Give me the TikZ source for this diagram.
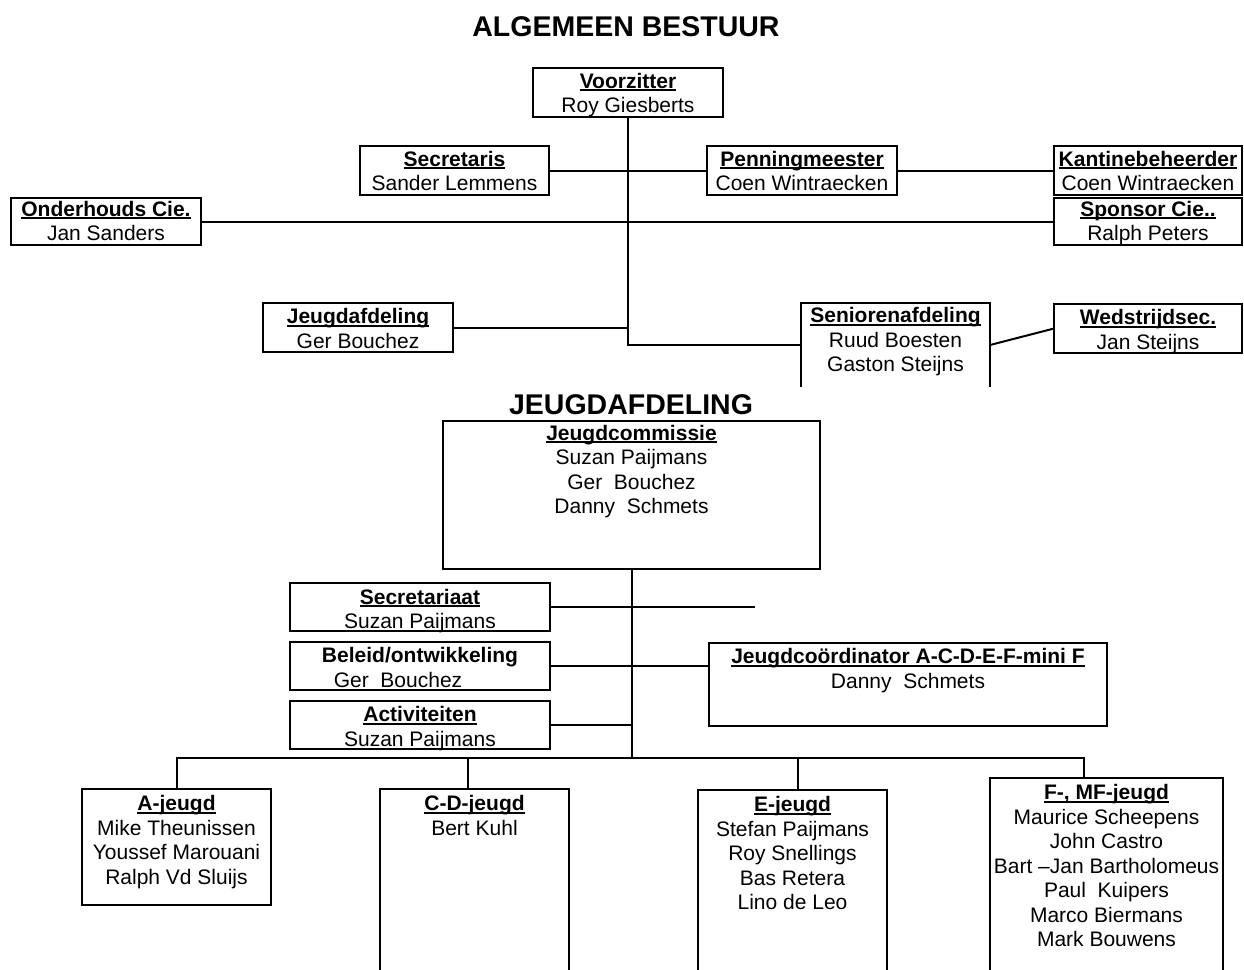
\documentclass[tikz,border=0pt]{standalone}
\usepackage{fontspec}
\setmainfont{Liberation Sans}
\usetikzlibrary{positioning}
\newcommand{\undl}[1]{\leavevmode\setbox0\hbox{\bfseries #1}\rlap{\rule[-3pt]{\wd0}{2pt}}\box0}
\begin{document}
\begin{tikzpicture}[x=1pt,y=1pt,yscale=-1,xscale=1,
  box/.style={draw,line width=2pt,inner sep=0pt,outer sep=0pt,anchor=north west},
  openbox/.style={line width=2pt,inner sep=0pt,outer sep=0pt,anchor=north west},
  txt/.style={inner sep=0pt,anchor=north,align=center,font=\fontsize{21}{24.5}\selectfont},
  head/.style={inner sep=0pt,anchor=base,font=\fontsize{28.5}{30}\selectfont\bfseries},
  conn/.style={line width=2pt}]
\useasboundingbox (0,0) rectangle (1244,969);
\node[head] (titel) at (626,36) {ALGEMEEN BESTUUR};
\node[box,minimum width=190pt,minimum height=49pt] (voorz) at (533,68) {};
\node[txt] (voorzt) at (628,73) {\undl{Voorzitter}\\Roy Giesberts};
\node[box,minimum width=189pt,minimum height=49pt] (secr) at (360,146) {};
\node[txt] (secrt) at (454.5,151) {\undl{Secretaris}\\Sander Lemmens};
\node[box,minimum width=190pt,minimum height=49pt] (penn) at (707,146) {};
\node[txt] (pennt) at (802,151) {\undl{Penningmeester}\\Coen Wintraecken};
\node[box,minimum width=188pt,minimum height=49pt] (kant) at (1054,146) {};
\node[txt] (kantt) at (1148,151) {\undl{Kantinebeheerder}\\Coen Wintraecken};
\node[box,minimum width=190pt,minimum height=47pt] (onder) at (11,198) {};
\node[txt] (ondert) at (106,201) {\undl{Onderhouds Cie.}\\Jan Sanders};
\node[box,minimum width=188pt,minimum height=47pt] (spons) at (1054,198) {};
\node[txt] (sponst) at (1148,201) {\undl{Sponsor Cie..}\\Ralph Peters};
\node[box,minimum width=190pt,minimum height=49pt] (jeugd) at (263,303) {};
\node[txt] (jeugdt) at (358,308.5) {\undl{Jeugdafdeling}\\Ger Bouchez};
\node[openbox,minimum width=189pt,minimum height=84pt] (sen) at (801,303) {};
\node[txt] (sent) at (895.5,307.5) {\undl{Seniorenafdeling}\\Ruud Boesten\\Gaston Steijns};
\node[box,minimum width=188pt,minimum height=49pt] (wedstr) at (1054,304) {};
\node[txt] (wedstrt) at (1148,309.5) {\undl{Wedstrijdsec.}\\Jan Steijns};
\draw[openbox] (sen.south west) |- (sen.north east) -- (sen.south east);
\draw[conn] (voorz.south) |- (sen.west);
\draw[conn] (secr.east) -- (penn.west);
\draw[conn] (penn.east) -- (kant.west);
\draw[conn] (onder.east) -- (spons.west);
\draw[conn] (jeugd.east) -- (jeugd.east -| voorz.south);
\draw[conn] (sen.east) -- (wedstr.west);
\node[head] (jtitel) at (631,414) {JEUGDAFDELING};
\node[box,minimum width=377pt,minimum height=148pt] (jcom) at (443,421) {};
\node[txt] (jcomt) at (631.5,425) {\undl{Jeugdcommissie}\\Suzan Paijmans\\Ger\ \ Bouchez\\Danny\ \ Schmets};
\node[box,minimum width=260pt,minimum height=48pt] (secrat) at (290,583) {};
\node[txt] (secratt) at (420,589) {\undl{Secretariaat}\\Suzan Paijmans};
\node[box,minimum width=260pt,minimum height=48pt] (beleid) at (290,642) {};
\node[txt] (beleidt) at (420,647.5) {\textbf{Beleid/ontwikkeling}\\\hspace*{-44pt}Ger\ \ Bouchez};
\node[box,minimum width=260pt,minimum height=48pt] (activ) at (290,701) {};
\node[txt] (activt) at (420,706.5) {\undl{Activiteiten}\\Suzan Paijmans};
\node[box,minimum width=398pt,minimum height=83pt] (jcoord) at (709,643) {};
\node[txt] (jcoordt) at (908,648.5) {\undl{Jeugdcoördinator A-C-D-E-F-mini F}\\Danny\ \ Schmets};
\node[box,minimum width=189pt,minimum height=116pt] (ajeugd) at (82,789) {};
\node[txt] (ajeugdt) at (176.5,795.5) {\undl{A-jeugd}\\Mike Theunissen\\Youssef Marouani\\Ralph Vd Sluijs};
\node[openbox,minimum width=189pt,minimum height=182pt] (cd) at (380,789) {};
\node[txt] (cdt) at (474.5,795.5) {\undl{C-D-jeugd}\\Bert Kuhl};
\node[openbox,minimum width=189pt,minimum height=181pt] (ej) at (698,790) {};
\node[txt] (ejt) at (792.5,796.5) {\undl{E-jeugd}\\Stefan Paijmans\\Roy Snellings\\Bas Retera\\Lino de Leo};
\node[openbox,minimum width=233pt,minimum height=193pt] (fj) at (990,778) {};
\node[txt] (fjt) at (1106.5,784.5) {\undl{F-, MF-jeugd}\\Maurice Scheepens\\John Castro\\Bart --Jan Bartholomeus\\Paul\ \ Kuipers\\Marco Biermans\\Mark Bouwens};
\draw[openbox] (cd.south west) |- (cd.north east) -- (cd.south east);
\draw[openbox] (ej.south west) |- (ej.north east) -- (ej.south east);
\draw[openbox] (fj.south west) |- (fj.north east) -- (fj.south east);
\coordinate (hub) at (631.5,758);
\coordinate (secend) at (755,607);
\draw[conn] (jcom.south) -- (hub);
\draw[conn] (secrat.east) -- (secend);
\draw[conn] (beleid.east) -- (beleid.east -| jcoord.west);
\draw[conn] (activ.east) -- (activ.east -| hub);
\draw[conn] (ajeugd.north) |- (hub) -| ([xshift=-22.5pt]fj.north);
\draw[conn] ([xshift=-6.5pt]cd.north) -- ([xshift=-6.5pt]cd.north |- hub);
\draw[conn] ([xshift=5.5pt]ej.north) -- ([xshift=5.5pt]ej.north |- hub);
\end{tikzpicture}
\end{document}
